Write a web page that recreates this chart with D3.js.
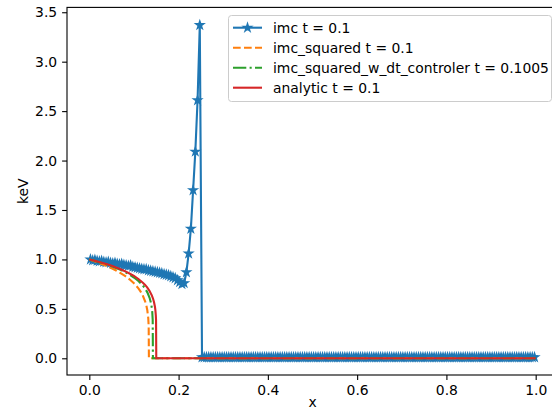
<!DOCTYPE html>
<html>
<head>
<meta charset="utf-8">
<script src="https://cdn.jsdelivr.net/npm/d3@7"></script>
<style>
	body { margin: 0; background: #fff; }
	svg { display: block; font-family: "DejaVu Sans", sans-serif; }
</style>
</head>
<body>
<svg></svg>
<script>
// imc: one value per cell, cell width 0.005 on [0, 1]
var imcCellWidth = 0.005;
var imcValues = [
	1.00, 0.99, 0.995, 0.985, 0.98, 0.985, 0.975, 0.97, 0.975, 0.965,
	0.96, 0.965, 0.955, 0.95, 0.955, 0.945, 0.94, 0.935, 0.94, 0.925,
	0.92, 0.915, 0.91, 0.905, 0.90, 0.90, 0.89, 0.885, 0.88, 0.875,
	0.87, 0.865, 0.86, 0.85, 0.845, 0.84, 0.83, 0.82, 0.81, 0.79,
	0.77, 0.75, 0.76, 0.87, 1.06, 1.31, 1.70, 2.09, 2.61, 3.37,
	0.01, 0.01, 0.01, 0.01, 0.01, 0.01, 0.01, 0.01, 0.01, 0.01,
	0.01, 0.01, 0.01, 0.01, 0.01, 0.01, 0.01, 0.01, 0.01, 0.01,
	0.01, 0.01, 0.01, 0.01, 0.01, 0.01, 0.01, 0.01, 0.01, 0.01,
	0.01, 0.01, 0.01, 0.01, 0.01, 0.01, 0.01, 0.01, 0.01, 0.01,
	0.01, 0.01, 0.01, 0.01, 0.01, 0.01, 0.01, 0.01, 0.01, 0.01,
	0.01, 0.01, 0.01, 0.01, 0.01, 0.01, 0.01, 0.01, 0.01, 0.01,
	0.01, 0.01, 0.01, 0.01, 0.01, 0.01, 0.01, 0.01, 0.01, 0.01,
	0.01, 0.01, 0.01, 0.01, 0.01, 0.01, 0.01, 0.01, 0.01, 0.01,
	0.01, 0.01, 0.01, 0.01, 0.01, 0.01, 0.01, 0.01, 0.01, 0.01,
	0.01, 0.01, 0.01, 0.01, 0.01, 0.01, 0.01, 0.01, 0.01, 0.01,
	0.01, 0.01, 0.01, 0.01, 0.01, 0.01, 0.01, 0.01, 0.01, 0.01,
	0.01, 0.01, 0.01, 0.01, 0.01, 0.01, 0.01, 0.01, 0.01, 0.01,
	0.01, 0.01, 0.01, 0.01, 0.01, 0.01, 0.01, 0.01, 0.01, 0.01,
	0.01, 0.01, 0.01, 0.01, 0.01, 0.01, 0.01, 0.01, 0.01, 0.01,
	0.01, 0.01, 0.01, 0.01, 0.01, 0.01, 0.01, 0.01, 0.01, 0.01
];

var squaredX = [0, 0.01, 0.02, 0.03, 0.04, 0.05, 0.06, 0.07, 0.08, 0.09, 0.10, 0.105, 0.11, 0.115, 0.12, 0.125, 0.128, 0.13, 0.132, 0.133, 0.1335, 1.0];
var squaredY = [1.0, 0.985, 0.968, 0.950, 0.931, 0.910, 0.888, 0.862, 0.833, 0.799, 0.758, 0.734, 0.707, 0.674, 0.632, 0.577, 0.528, 0.483, 0.408, 0.327, 0, 0];

var controlX = [0, 0.01, 0.02, 0.03, 0.04, 0.05, 0.06, 0.07, 0.08, 0.09, 0.10, 0.11, 0.12, 0.125, 0.13, 0.135, 0.138, 0.14, 0.141, 0.142, 0.1425, 1.0];
var controlY = [1.0, 0.988, 0.975, 0.961, 0.947, 0.931, 0.913, 0.894, 0.872, 0.847, 0.817, 0.782, 0.735, 0.705, 0.667, 0.612, 0.562, 0.510, 0.468, 0.39, 0, 0];

var analyticX = [0, 0.01, 0.02, 0.03, 0.04, 0.05, 0.06, 0.07, 0.08, 0.09, 0.10, 0.11, 0.12, 0.125, 0.13, 0.135, 0.14, 0.143, 0.145, 0.147, 0.148, 0.149, 0.1495, 0.15, 1.0];
var analyticY = [1.0, 0.989, 0.976, 0.964, 0.950, 0.935, 0.918, 0.901, 0.881, 0.858, 0.833, 0.802, 0.765, 0.742, 0.715, 0.681, 0.637, 0.600, 0.567, 0.521, 0.487, 0.434, 0.387, 0, 0];

var legendLabels = ['imc t = 0.1', 'imc_squared t = 0.1', 'imc_squared_w_dt_controler t = 0.1005', 'analytic t = 0.1'];
var xTicks = [0, 0.2, 0.4, 0.6, 0.8, 1.0];
var yTicks = [0, 0.5, 1.0, 1.5, 2.0, 2.5, 3.0, 3.5];

var width = 552, height = 417;
var axLeft = 67, axRight = 558, axTop = 7.4, axBottom = 375;
var colors = ['#1f77b4', '#ff7f0e', '#2ca02c', '#d62728'];
var lw = 2.1;
var fontSize = "13.9px";

var svg = d3.select("svg")
			.attr("width", width)
			.attr("height", height);

var x = d3.scaleLinear().domain([-0.05, 1.05]).range([axLeft, axRight]);
var y = d3.scaleLinear().domain([-0.169, 3.549]).range([axBottom, axTop]);

var imc = imcValues.map(function(v, i) { return [(i + 0.5) * imcCellWidth, v]; });
var squared = squaredX.map(function(v, i) { return [v, squaredY[i]]; });
var control = controlX.map(function(v, i) { return [v, controlY[i]]; });
var analytic = analyticX.map(function(v, i) { return [v, analyticY[i]]; });

var line = d3.line()
	.x(function(d) { return x(d[0]); })
	.y(function(d) { return y(d[1]); });

var star = d3.symbol().type(d3.symbolStar).size(19.5);

var plot = svg.append("g");

plot.append("path")
	.attr("d", line(imc))
	.attr("fill", "none")
	.attr("stroke", colors[0])
	.attr("stroke-width", lw)
	.attr("stroke-linejoin", "round");

plot.append("g")
	.selectAll("path")
	.data(imc)
	.enter().append("path")
	.attr("d", star)
	.attr("transform", function(d) { return "translate(" + x(d[0]) + "," + y(d[1]) + ")"; })
	.attr("fill", colors[0])
	.attr("stroke", colors[0])
	.attr("stroke-width", 1.4);

plot.append("path")
	.attr("d", line(squared))
	.attr("fill", "none")
	.attr("stroke", colors[1])
	.attr("stroke-width", lw)
	.attr("stroke-dasharray", "7.7,3.3");

plot.append("path")
	.attr("d", line(control))
	.attr("fill", "none")
	.attr("stroke", colors[2])
	.attr("stroke-width", lw)
	.attr("stroke-dasharray", "13.3,3.3,2.1,3.3");

plot.append("path")
	.attr("d", line(analytic))
	.attr("fill", "none")
	.attr("stroke", colors[3])
	.attr("stroke-width", lw);

// axes
var xAxis = svg.append("g")
	.attr("transform", "translate(0," + axBottom + ")")
	.call(d3.axisBottom(x).tickValues(xTicks).tickFormat(d3.format(".1f")).tickSizeInner(4.9).tickSizeOuter(0).tickPadding(4.9));

var yAxis = svg.append("g")
	.attr("transform", "translate(" + axLeft + ",0)")
	.call(d3.axisLeft(y).tickValues(yTicks).tickFormat(d3.format(".1f")).tickSizeInner(4.9).tickSizeOuter(0).tickPadding(4.9));

svg.selectAll(".domain").remove();
svg.selectAll(".tick line").attr("stroke", "#000").attr("stroke-width", 1.1);
svg.selectAll(".tick text")
	.attr("fill", "#000")
	.style("font-size", fontSize)
	.style("font-family", "DejaVu Sans");

svg.append("rect")
	.attr("x", axLeft)
	.attr("y", axTop)
	.attr("width", axRight - axLeft)
	.attr("height", axBottom - axTop)
	.attr("fill", "none")
	.attr("stroke", "#000")
	.attr("stroke-width", 1.1);

svg.append("text")
	.attr("x", (axLeft + axRight) / 2)
	.attr("y", 407)
	.attr("text-anchor", "middle")
	.style("font-size", fontSize)
	.text("x");

svg.append("text")
	.attr("transform", "translate(28," + ((axTop + axBottom) / 2) + ") rotate(-90)")
	.attr("text-anchor", "middle")
	.style("font-size", fontSize)
	.text("keV");

// legend
var legend = svg.append("g");

legend.append("rect")
	.attr("x", 228.5)
	.attr("y", 15.5)
	.attr("width", 323)
	.attr("height", 86)
	.attr("rx", 3)
	.attr("fill", "#fff")
	.attr("fill-opacity", 0.8)
	.attr("stroke", "#ccc")
	.attr("stroke-width", 1);

var dashes = [null, "7.7,3.3", "13.3,3.3,2.1,3.3", null];

var item = legend.selectAll(".item")
	.data(legendLabels)
	.enter().append("g")
	.attr("class", "item")
	.attr("transform", function(d, i) { return "translate(0," + (27.7 + 20 * i) + ")"; });

item.append("line")
	.attr("x1", 233)
	.attr("x2", 262)
	.attr("stroke", function(d, i) { return colors[i]; })
	.attr("stroke-width", lw)
	.attr("stroke-dasharray", function(d, i) { return dashes[i]; });

item.filter(function(d, i) { return i == 0; })
	.append("path")
	.attr("d", star)
	.attr("transform", "translate(247.5,0)")
	.attr("fill", colors[0])
	.attr("stroke", colors[0])
	.attr("stroke-width", 1.4);

item.append("text")
	.attr("x", 273)
	.attr("dy", "0.35em")
	.style("font-size", fontSize)
	.text(function(d) { return d; });
</script>
</body>
</html>
